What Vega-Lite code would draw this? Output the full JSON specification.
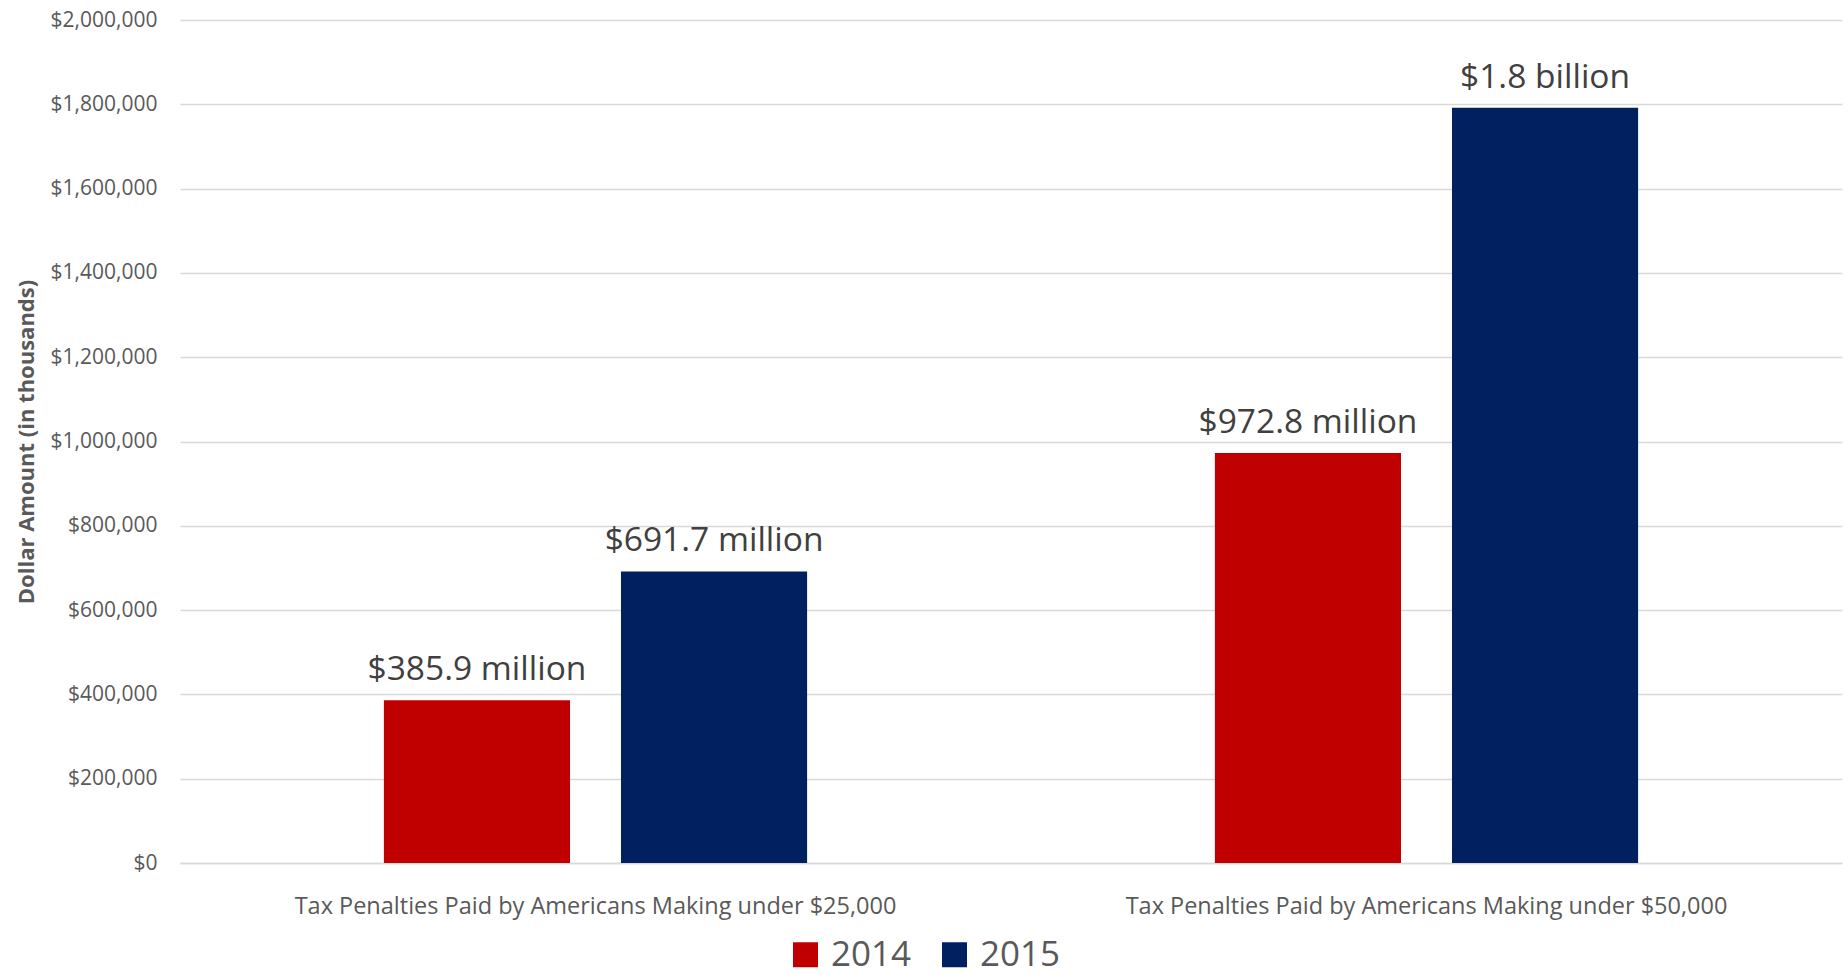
{
  "$schema": "https://vega.github.io/schema/vega-lite/v6.json",
  "width": 1662,
  "height": 843,
  "autosize": {"type": "none"},
  "padding": {"left": 180, "top": 20, "right": 6, "bottom": 112},
  "background": "#ffffff",
  "config": {
    "view": {"stroke": null},
    "font": "Open Sans"
  },
  "data": {
    "values": [
      {"category": "Tax Penalties Paid by Americans Making under $25,000", "year": "2014", "value": 385900, "label": "$385.9 million"},
      {"category": "Tax Penalties Paid by Americans Making under $25,000", "year": "2015", "value": 691700, "label": "$691.7 million"},
      {"category": "Tax Penalties Paid by Americans Making under $50,000", "year": "2014", "value": 972800, "label": "$972.8 million"},
      {"category": "Tax Penalties Paid by Americans Making under $50,000", "year": "2015", "value": 1792000, "label": "$1.8 billion"}
    ]
  },
  "encoding": {
    "x": {
      "field": "category",
      "type": "nominal",
      "scale": {"paddingInner": 0, "paddingOuter": 0},
      "axis": {
        "title": null,
        "labelAngle": 0,
        "ticks": false,
        "labelPadding": 31,
        "labelFontSize": 23.5,
        "labelColor": "#595959",
        "domainColor": "#d9d9d9",
        "domainWidth": 1.5,
        "labelLimit": 0
      }
    },
    "xOffset": {
      "field": "year",
      "type": "nominal",
      "scale": {"paddingInner": 0.215, "paddingOuter": 0.86}
    },
    "y": {
      "field": "value",
      "type": "quantitative",
      "scale": {"domain": [0, 2000000], "nice": false},
      "axis": {
        "values": [0, 200000, 400000, 600000, 800000, 1000000, 1200000, 1400000, 1600000, 1800000, 2000000],
        "format": "$,.0f",
        "title": "Dollar Amount (in thousands)",
        "titleFontSize": 22,
        "titleFontWeight": "bold",
        "titleColor": "#595959",
        "titleX": -154,
        "titleY": 421.5,
        "titleAngle": -90,
        "titleAlign": "center",
        "titleBaseline": "middle",
        "labelFontSize": 21,
        "labelColor": "#595959",
        "labelPadding": 23,
        "ticks": false,
        "domain": false,
        "gridColor": "#d9d9d9",
        "gridWidth": 1.5
      }
    }
  },
  "layer": [
    {
      "mark": {"type": "bar"},
      "encoding": {
        "color": {
          "field": "year",
          "type": "nominal",
          "scale": {"domain": ["2014", "2015"], "range": ["#C00000", "#002060"]},
          "legend": {
            "title": null,
            "orient": "none",
            "direction": "horizontal",
            "legendX": 608,
            "legendY": 917,
            "padding": 0,
            "symbolType": "square",
            "symbolSize": 625,
            "symbolStrokeWidth": 0,
            "labelFontSize": 35,
            "labelColor": "#595959",
            "labelOffset": 8,
            "columnPadding": 25
          }
        }
      }
    },
    {
      "mark": {"type": "text", "baseline": "alphabetic", "dy": -20, "fontSize": 33.5, "color": "#404040"},
      "encoding": {
        "text": {"field": "label"}
      }
    }
  ]
}
